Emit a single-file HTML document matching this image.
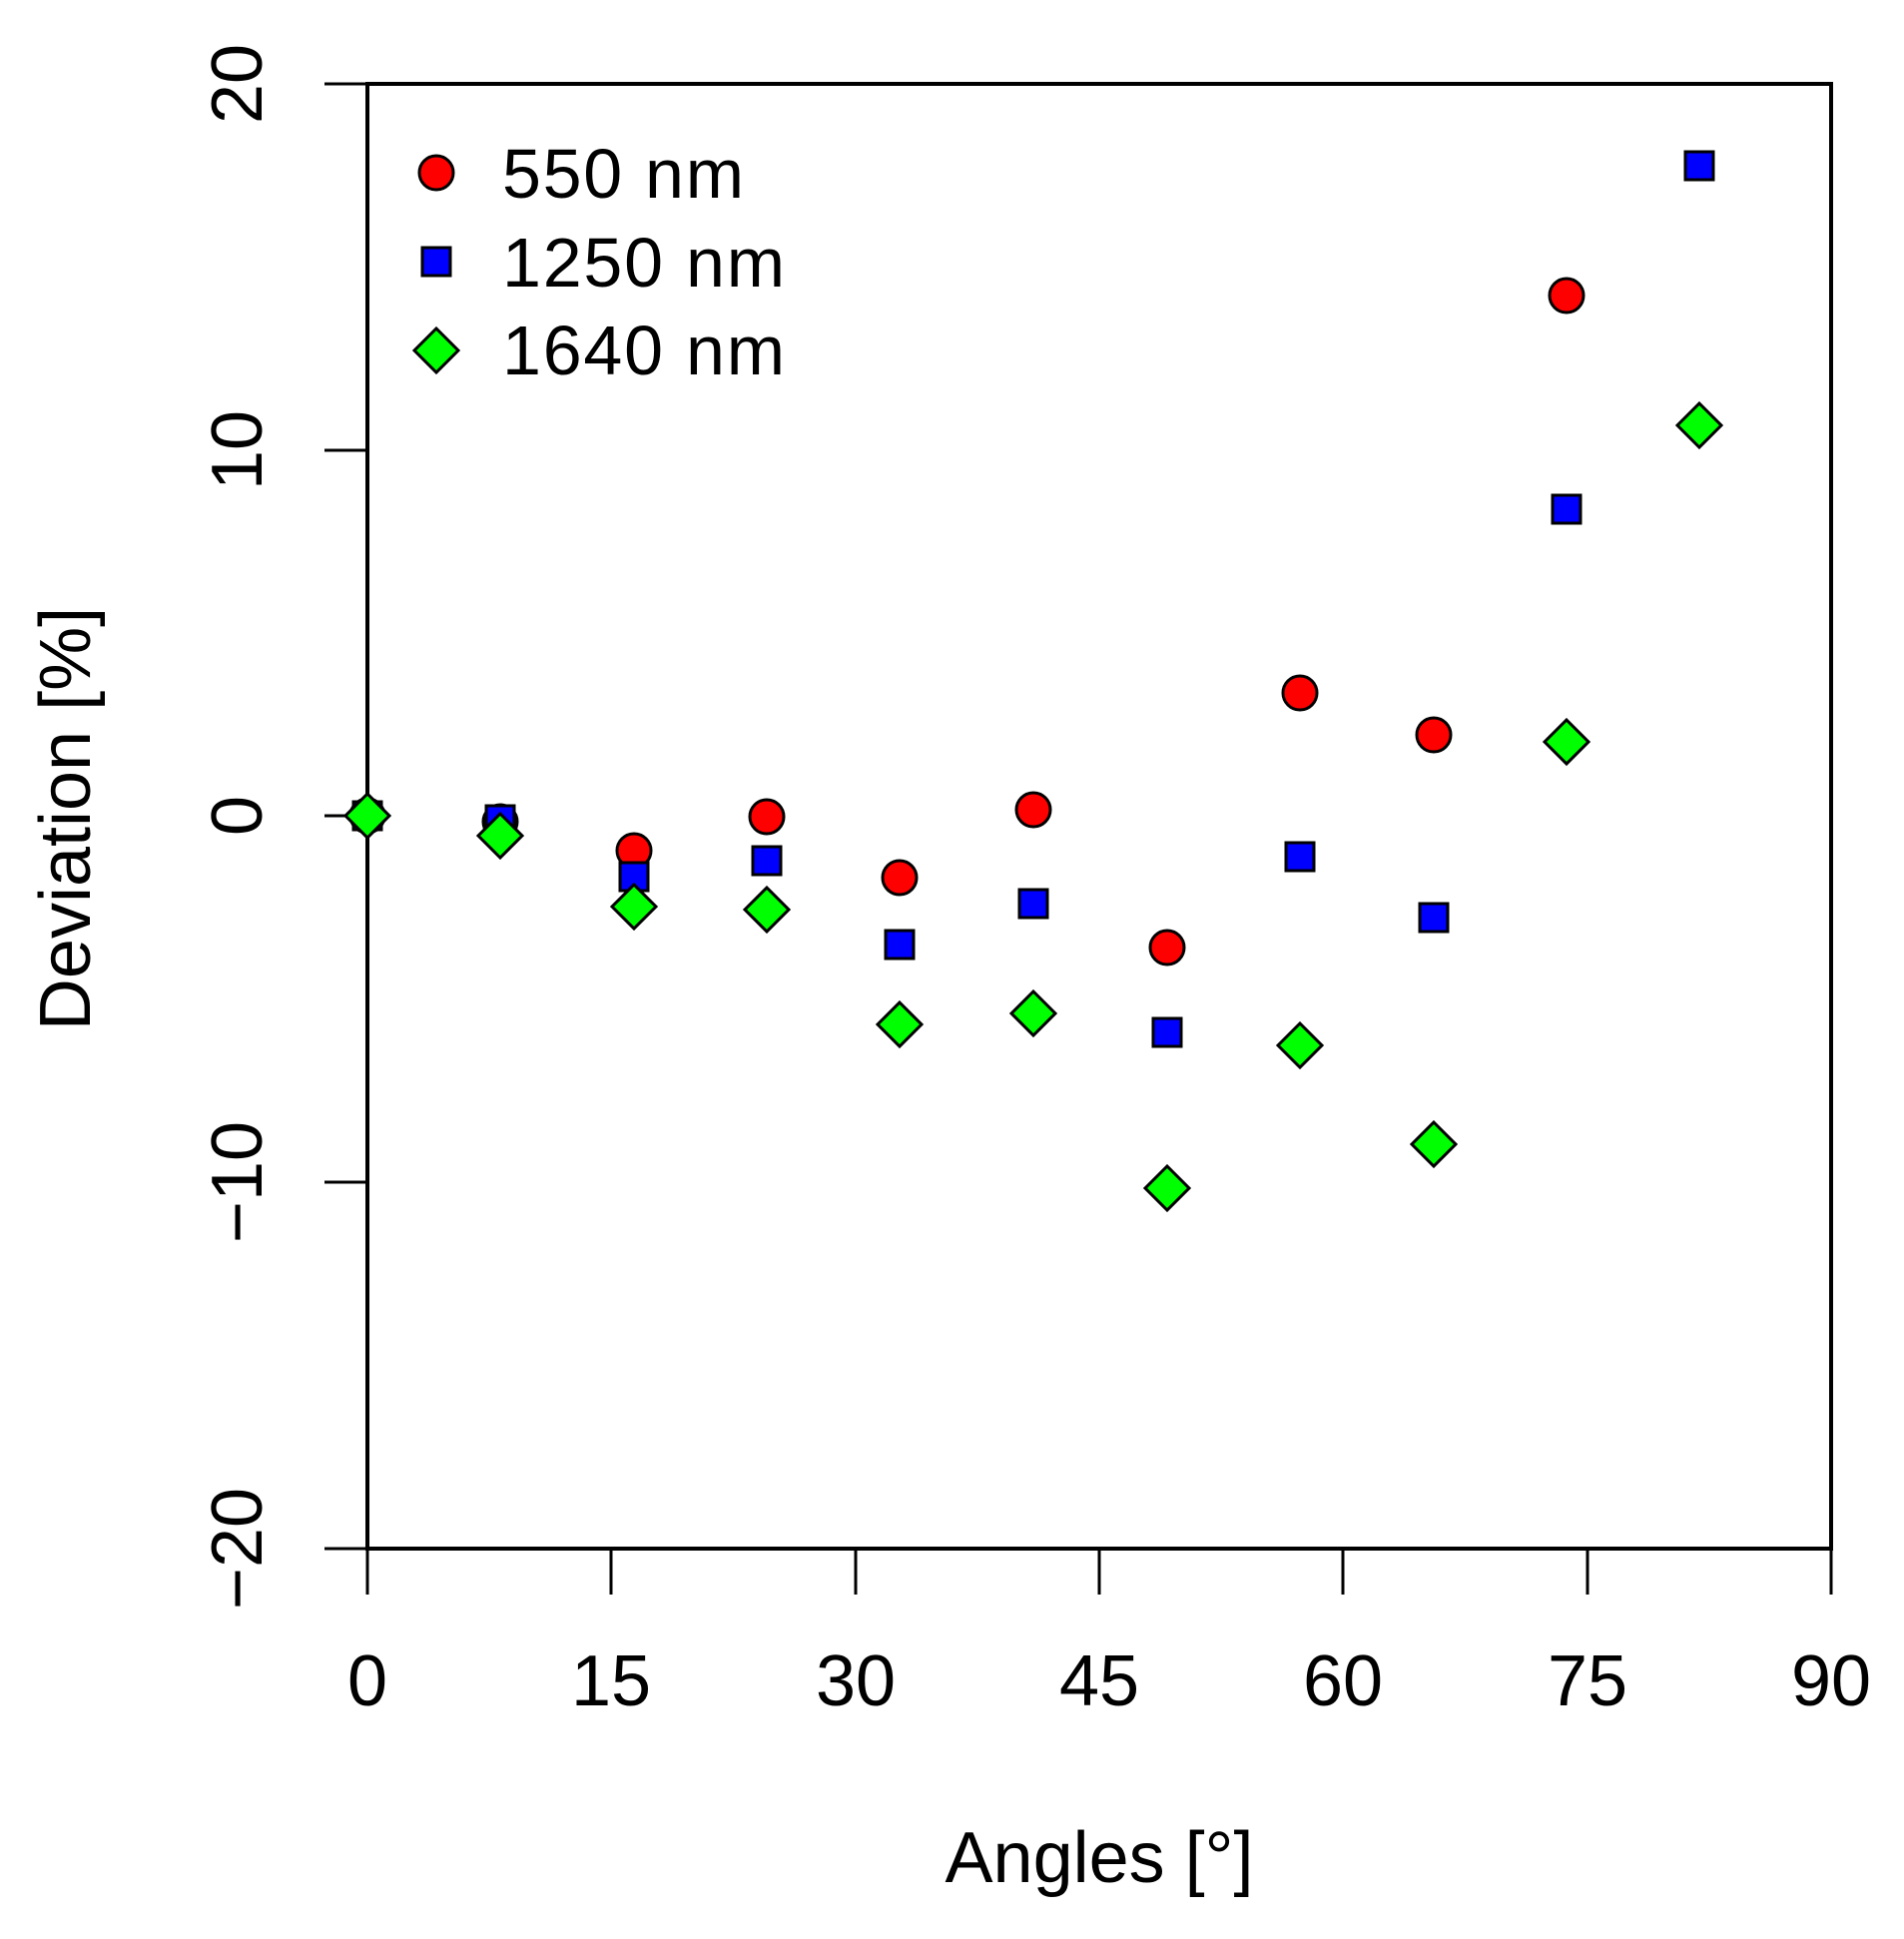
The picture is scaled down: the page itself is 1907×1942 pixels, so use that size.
<!DOCTYPE html>
<html><head><meta charset="utf-8"><style>body{margin:0;background:#fff}svg{display:block}</style></head>
<body>
<svg width="1907" height="1942" xmlns="http://www.w3.org/2000/svg" font-family="Liberation Sans, Arial, sans-serif">
<rect width="1907" height="1942" fill="#fff"/>
<rect x="368" y="84" width="1466" height="1467" fill="none" stroke="#000" stroke-width="4"/>
<g stroke="#000" stroke-width="3">
<line x1="368" y1="1551" x2="368" y2="1597"/><line x1="612" y1="1551" x2="612" y2="1597"/>
<line x1="857" y1="1551" x2="857" y2="1597"/><line x1="1101" y1="1551" x2="1101" y2="1597"/>
<line x1="1345" y1="1551" x2="1345" y2="1597"/><line x1="1590" y1="1551" x2="1590" y2="1597"/>
<line x1="1834" y1="1551" x2="1834" y2="1597"/>
<line x1="325" y1="84" x2="368" y2="84"/><line x1="325" y1="451" x2="368" y2="451"/>
<line x1="325" y1="817" x2="368" y2="817"/><line x1="325" y1="1184" x2="368" y2="1184"/>
<line x1="325" y1="1551" x2="368" y2="1551"/>
</g>
<g font-size="72" text-anchor="middle" fill="#000">
<text x="368" y="1708">0</text><text x="612" y="1708">15</text><text x="857" y="1708">30</text>
<text x="1101" y="1708">45</text><text x="1345" y="1708">60</text><text x="1590" y="1708">75</text>
<text x="1834" y="1708">90</text>
<text transform="translate(262,84) rotate(-90)">20</text>
<text transform="translate(262,451) rotate(-90)">10</text>
<text transform="translate(262,817) rotate(-90)">0</text>
<text transform="translate(262,1184) rotate(-90)">−10</text>
<text transform="translate(262,1551) rotate(-90)">−20</text>
<text x="1101" y="1885">Angles [°]</text>
<text transform="translate(90,820) rotate(-90)">Deviation [%]</text>
</g>
<g font-size="70" fill="#000">
<text x="503" y="198" textLength="242">550 nm</text><text x="503" y="287" textLength="283">1250 nm</text><text x="503" y="375" textLength="283">1640 nm</text>
</g>
<g stroke="#000" stroke-width="3">
<circle cx="437" cy="173" r="17" fill="#f00"/>
<rect x="423" y="248" width="28" height="28" fill="#00f"/>
<polygon points="437,329 459,351 437,373 415,351" fill="#0f0"/>
</g>
<g stroke="#000" stroke-width="3">
<g fill="#f00">
<circle cx="368" cy="817" r="17"/><circle cx="501" cy="823" r="17"/><circle cx="635" cy="852" r="17"/>
<circle cx="768" cy="818" r="17"/><circle cx="901" cy="879" r="17"/><circle cx="1035" cy="811" r="17"/>
<circle cx="1169" cy="949" r="17"/><circle cx="1302" cy="694" r="17"/><circle cx="1436" cy="736" r="17"/>
<circle cx="1569" cy="296" r="17"/>
</g>
<g fill="#00f">
<rect x="354" y="803" width="28" height="28"/><rect x="487" y="807" width="28" height="28"/>
<rect x="621" y="864" width="28" height="28"/><rect x="754" y="848" width="28" height="28"/>
<rect x="887" y="932" width="28" height="28"/><rect x="1021" y="891" width="28" height="28"/>
<rect x="1155" y="1020" width="28" height="28"/><rect x="1288" y="844" width="28" height="28"/>
<rect x="1422" y="905" width="28" height="28"/><rect x="1555" y="496" width="28" height="28"/>
<rect x="1688" y="152" width="28" height="28"/>
</g>
<g fill="#0f0">
<polygon points="368,795 390,817 368,839 346,817"/>
<polygon points="501,815 523,837 501,859 479,837"/>
<polygon points="635,886 657,908 635,930 613,908"/>
<polygon points="768,889 790,911 768,933 746,911"/>
<polygon points="901,1004 923,1026 901,1048 879,1026"/>
<polygon points="1035,993 1057,1015 1035,1037 1013,1015"/>
<polygon points="1169,1168 1191,1190 1169,1212 1147,1190"/>
<polygon points="1302,1025 1324,1047 1302,1069 1280,1047"/>
<polygon points="1436,1124 1458,1146 1436,1168 1414,1146"/>
<polygon points="1569,721 1591,743 1569,765 1547,743"/>
<polygon points="1702,404 1724,426 1702,448 1680,426"/>
</g>
</g>
</svg>
</body></html>
